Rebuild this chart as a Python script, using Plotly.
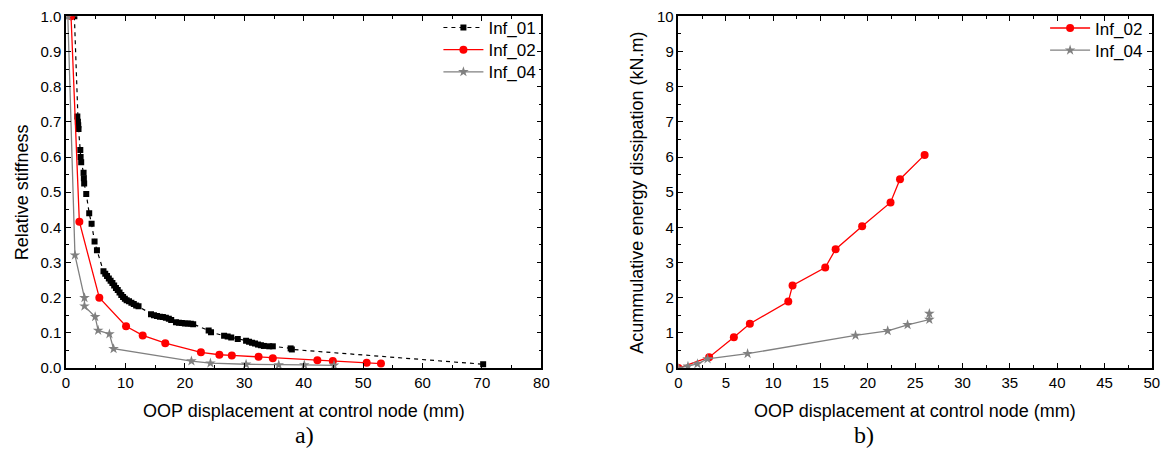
import plotly.graph_objects as go

# ---- Data: panel a) relative stiffness ----
inf01_x = [1.4, 1.9, 2.0, 2.05, 2.1, 2.4, 2.45, 2.55, 2.95, 3.0, 3.05, 3.4, 3.9, 4.3, 4.8, 5.2,
           6.3, 6.6, 6.9, 7.2, 7.5, 7.8, 8.1, 8.4, 8.7, 9.0, 9.3, 9.6, 9.9, 10.2, 10.6, 11.0, 11.4, 11.8, 12.2,
           14.3, 14.8, 15.3, 15.8, 16.3, 16.8, 17.3, 17.7,
           18.5, 19.0, 19.5, 20.0, 20.5, 21.0, 21.4,
           24.0, 24.4, 26.6, 27.2, 27.8, 28.9,
           30.3, 30.8, 31.3, 31.8, 32.3, 32.8, 33.3, 34.2, 34.8, 37.8, 38.0, 70.2]
inf01_y = [1.0, 0.715, 0.70, 0.69, 0.68, 0.62, 0.60, 0.585, 0.555, 0.54, 0.525, 0.495, 0.44, 0.41, 0.36, 0.335,
           0.275, 0.268, 0.262, 0.255, 0.248, 0.242, 0.235, 0.228, 0.222, 0.215, 0.208, 0.202, 0.197, 0.193, 0.19, 0.186, 0.182, 0.178, 0.176,
           0.153, 0.150, 0.148, 0.146, 0.145, 0.143, 0.140, 0.137,
           0.130, 0.129, 0.128, 0.127, 0.127, 0.126, 0.125,
           0.107, 0.102, 0.092, 0.090, 0.087, 0.083,
           0.078, 0.075, 0.072, 0.070, 0.067, 0.065, 0.063, 0.062, 0.062, 0.056, 0.053, 0.011]

inf02a_x = [0.84, 2.24, 5.6, 10.1, 12.9, 16.7, 22.7, 25.8, 27.9, 32.4, 34.8, 42.3, 44.9, 50.6, 53.0]
inf02a_y = [1.0, 0.416, 0.20, 0.119, 0.093, 0.071, 0.045, 0.038, 0.036, 0.032, 0.028, 0.022, 0.020, 0.015, 0.013]

inf04a_x = [0.3, 1.5, 3.1, 3.1, 4.9, 5.4, 7.3, 8.0, 21.1, 24.3, 30.3, 35.8, 40.1, 45.1]
inf04a_y = [1.0, 0.321, 0.20, 0.176, 0.146, 0.107, 0.097, 0.055, 0.020, 0.014, 0.011, 0.009, 0.009, 0.008]

# ---- Data: panel b) cumulative energy dissipation ----
inf02b_x = [0.0, 3.24, 5.85, 7.54, 11.6, 12.05, 15.5, 16.6, 19.4, 22.4, 23.4, 26.0]
inf02b_y = [0.0, 0.31, 0.88, 1.26, 1.89, 2.35, 2.86, 3.38, 4.03, 4.71, 5.37, 6.06]

inf04b_x = [0.0, 1.0, 2.0, 3.07, 7.3, 18.7, 22.1, 24.2, 26.5, 26.5]
inf04b_y = [0.0, 0.05, 0.12, 0.26, 0.41, 0.93, 1.06, 1.23, 1.38, 1.55]

FONT = "Liberation Sans, Arial, sans-serif"
SERIF = "Liberation Serif, Times New Roman, serif"
GRAY = "#808080"
W, H = 1166, 453


def sx(p):
    """target picture x pixel -> layout pixel (compensates observed render offset/scale)"""
    return (p - 3.0) / 0.989


def sy(p):
    """target picture y pixel -> layout pixel"""
    return (p - 7.7) / 0.963


def px(p):
    return sx(p) / W


def py(p):
    return 1 - sy(p) / H


fig = go.Figure()

fig.add_trace(go.Scatter(x=inf01_x, y=inf01_y, name="Inf_01", mode="lines+markers",
                         line=dict(color="black", width=1.2, dash="4px,4px"),
                         marker=dict(symbol="square", size=6, color="black"),
                         xaxis="x", yaxis="y", legend="legend"))
fig.add_trace(go.Scatter(x=inf02a_x, y=inf02a_y, name="Inf_02", mode="lines+markers",
                         line=dict(color="red", width=1.3),
                         marker=dict(symbol="circle", size=8, color="red"),
                         xaxis="x", yaxis="y", legend="legend2"))
fig.add_trace(go.Scatter(x=inf04a_x, y=inf04a_y, name="Inf_04", mode="lines+markers",
                         line=dict(color=GRAY, width=1.3),
                         marker=dict(symbol="star", size=8, color=GRAY),
                         xaxis="x", yaxis="y", legend="legend3"))

fig.add_trace(go.Scatter(x=inf02b_x, y=inf02b_y, name="Inf_02", mode="lines+markers",
                         line=dict(color="red", width=1.3),
                         marker=dict(symbol="circle", size=8, color="red"),
                         xaxis="x2", yaxis="y2", legend="legend4"))
fig.add_trace(go.Scatter(x=inf04b_x, y=inf04b_y, name="Inf_04", mode="lines+markers",
                         line=dict(color=GRAY, width=1.3),
                         marker=dict(symbol="star", size=8, color=GRAY),
                         xaxis="x2", yaxis="y2", legend="legend5"))

axis_common = dict(showline=True, linecolor="black", linewidth=1.5, mirror="allticks",
                   ticks="inside", ticklen=5, tickwidth=1.2, tickcolor="black",
                   showgrid=False, zeroline=False, ticklabeloverflow="allow",
                   tickfont=dict(family=FONT, size=15, color="black"))
minor_common = dict(ticks="inside", ticklen=3, tickcolor="black", tickwidth=1.2)


def leg(x_anchor, y_top):
    # positions given directly in layout pixels
    return dict(x=x_anchor / W, y=1 - y_top / H, xanchor="right", yanchor="top",
                bgcolor="rgba(0,0,0,0)", font=dict(family=FONT, size=17, color="black"),
                tracegroupgap=0, itemwidth=40)


fig.update_layout(
    width=W, height=H,
    margin=dict(l=0, r=0, t=0, b=0),
    paper_bgcolor="white", plot_bgcolor="white",
    showlegend=True,
    xaxis=dict(domain=[px(65), px(540)], range=[0, 80], dtick=10,
               minor=dict(dtick=5, **minor_common), anchor="y", **axis_common),
    yaxis=dict(domain=[py(367), py(15)], range=[0, 1.0], dtick=0.1, tickformat=".1f",
               minor=dict(dtick=0.05, **minor_common), anchor="x", **axis_common),
    xaxis2=dict(domain=[px(677), px(1150)], range=[0, 50], dtick=5,
                minor=dict(dtick=2.5, **minor_common), anchor="y2", **axis_common),
    yaxis2=dict(domain=[py(367), py(15)], range=[0, 10], dtick=1,
                minor=dict(dtick=0.5, **minor_common), anchor="x2", **axis_common),
    legend=leg(543, 1),
    legend2=leg(543, 24),
    legend3=leg(543, 47),
    legend4=leg(1156, 1.5),
    legend5=leg(1156, 24.5),
    annotations=[
        dict(text="Relative stiffness", x=px(21), y=py(191), xref="paper", yref="paper",
             xanchor="center", yanchor="middle",
             textangle=-90, showarrow=False, font=dict(family=FONT, size=18, color="black")),
        dict(text="OOP displacement at control node (mm)", x=px(303), y=py(410), xref="paper", yref="paper",
             xanchor="center", yanchor="middle",
             showarrow=False, font=dict(family=FONT, size=18, color="black")),
        dict(text="a)", x=px(303), y=1 - 443 / H, xref="paper", yref="paper",
             xanchor="center", yanchor="middle",
             showarrow=False, font=dict(family=SERIF, size=24, color="black")),
        dict(text="Acummulative energy dissipation (kN.m)", x=px(636), y=py(191), xref="paper", yref="paper",
             xanchor="center", yanchor="middle",
             textangle=-90, showarrow=False, font=dict(family=FONT, size=18, color="black")),
        dict(text="OOP displacement at control node (mm)", x=px(913), y=py(410), xref="paper", yref="paper",
             xanchor="center", yanchor="middle",
             showarrow=False, font=dict(family=FONT, size=18, color="black")),
        dict(text="b)", x=px(862), y=1 - 443 / H, xref="paper", yref="paper",
             xanchor="center", yanchor="middle",
             showarrow=False, font=dict(family=SERIF, size=24, color="black")),
    ],
)

fig.write_html("out.html", config={"displayModeBar": False},
               post_script="document.body.style.margin='0';document.body.style.overflow='hidden';")
